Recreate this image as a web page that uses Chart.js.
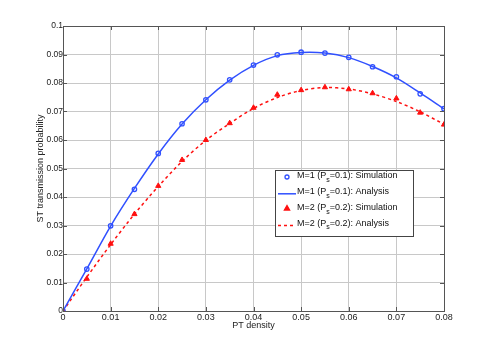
<!DOCTYPE html>
<html>
<head>
<meta charset="utf-8">
<script src="https://cdn.jsdelivr.net/npm/chart.js@4/dist/chart.umd.min.js"></script>
<style>
  html, body { margin: 0; padding: 0; background: #fff; }
  #wrap { width: 491px; height: 350px; }
</style>
</head>
<body>
<div id="wrap"><canvas id="chart" width="491" height="350"></canvas></div>
<script>
// PT density on the x axis
const density = [0, 0.005, 0.01, 0.015, 0.02, 0.025, 0.03, 0.035, 0.04,
  0.045, 0.05, 0.055, 0.06, 0.065, 0.07, 0.075, 0.08];

const m1Sim = [0, 0.0147, 0.0299, 0.0427, 0.0553, 0.0657, 0.0741, 0.0811, 0.0863,
  0.0899, 0.0908, 0.0905, 0.0890, 0.0857, 0.0822, 0.0762, 0.0710];
const m1Ana = [0, 0.0148, 0.0298, 0.0430, 0.0551, 0.0656, 0.0741, 0.0810, 0.0862,
  0.0896, 0.0907, 0.0905, 0.0889, 0.0858, 0.0818, 0.0765, 0.0709];

const m2Sim = [0, 0.0113, 0.0236, 0.0340, 0.0439, 0.0530, 0.0600, 0.0659, 0.0713,
  0.0759, 0.0775, 0.0785, 0.0778, 0.0764, 0.0746, 0.0696, 0.0654];
const m2Ana = [0, 0.0119, 0.0233, 0.0340, 0.0437, 0.0525, 0.0599, 0.0658, 0.0711,
  0.0749, 0.0774, 0.0784, 0.0779, 0.0762, 0.0735, 0.0699, 0.0655];

const xTicks = [0, 0.01, 0.02, 0.03, 0.04, 0.05, 0.06, 0.07, 0.08];
const yTicks = [0, 0.01, 0.02, 0.03, 0.04, 0.05, 0.06, 0.07, 0.08, 0.09, 0.1];

const BLUE = '#3050ff';
const RED = '#ff1010';
const FONT = '"Liberation Sans", Arial, Helvetica, sans-serif';

const pts = ys => density.map((x, i) => ({ x, y: ys[i] }));

const legendItems = [
  { m: '1', p: '0.1', kind: 'Simulation', color: BLUE, marker: 'circle' },
  { m: '1', p: '0.1', kind: 'Analysis', color: BLUE, dash: [] },
  { m: '2', p: '0.2', kind: 'Simulation', color: RED, marker: 'triangle' },
  { m: '2', p: '0.2', kind: 'Analysis', color: RED, dash: [3, 3] },
];

// box, inward ticks and the boxed legend, MATLAB style
const framePlugin = {
  id: 'frame',
  afterDatasetsDraw(chart) {
    const { ctx, chartArea: a, scales } = chart;
    ctx.save();
    ctx.strokeStyle = '#555';
    ctx.lineWidth = 1;
    ctx.strokeRect(a.left + 0.5, a.top + 0.5, a.right - a.left, a.bottom - a.top);
    ctx.beginPath();
    xTicks.forEach(v => {
      const x = Math.round(scales.x.getPixelForValue(v)) + 0.5;
      ctx.moveTo(x, a.bottom); ctx.lineTo(x, a.bottom - 4);
      ctx.moveTo(x, a.top); ctx.lineTo(x, a.top + 4);
    });
    yTicks.forEach(v => {
      const y = Math.round(scales.y.getPixelForValue(v)) + 0.5;
      ctx.moveTo(a.left, y); ctx.lineTo(a.left + 4, y);
      ctx.moveTo(a.right, y); ctx.lineTo(a.right - 4, y);
    });
    ctx.stroke();

    // legend
    const bx = 275.5, by = 170.5, bw = 138, bh = 66;
    ctx.fillStyle = '#fff';
    ctx.fillRect(bx, by, bw, bh);
    ctx.strokeStyle = '#444';
    ctx.strokeRect(bx, by, bw, bh);
    legendItems.forEach((it, i) => {
      const cy = 176 + i * 15.8;
      ctx.strokeStyle = it.color;
      ctx.lineWidth = 1.3;
      if (it.marker === 'circle') {
        ctx.fillStyle = '#fff';
        Chart.helpers.drawPoint(ctx, { pointStyle: 'circle', radius: 2, borderWidth: 1.3 }, 287, cy + 1);
      } else if (it.marker === 'triangle') {
        ctx.fillStyle = it.color;
        Chart.helpers.drawPoint(ctx, { pointStyle: 'triangle', radius: 3, borderWidth: 1 }, 287, cy + 1);
      } else {
        ctx.lineWidth = 1.5;
        ctx.setLineDash(it.dash);
        ctx.beginPath(); ctx.moveTo(278, cy + 2); ctx.lineTo(296, cy + 2); ctx.stroke();
        ctx.setLineDash([]);
      }
      ctx.fillStyle = '#111';
      ctx.font = '9px ' + FONT;
      ctx.textBaseline = 'middle';
      let tx = 297;
      const a1 = 'M=' + it.m + ' (P';
      ctx.fillText(a1, tx, cy); tx += ctx.measureText(a1).width;
      ctx.font = '7px ' + FONT;
      ctx.fillText('s', tx, cy + 4); tx += ctx.measureText('s').width;
      ctx.font = '9px ' + FONT;
      ctx.fillText('=' + it.p + '): ' + it.kind, tx, cy);
    });
    ctx.restore();
  },
};

new Chart(document.getElementById('chart'), {
  type: 'scatter',
  data: {
    datasets: [{
      label: 'M=1 (Ps=0.1): Analysis',
      data: pts(m1Ana), showLine: true, borderColor: BLUE, borderWidth: 1.5,
      pointRadius: 0, tension: 0.3,
    }, {
      label: 'M=2 (Ps=0.2): Analysis',
      data: pts(m2Ana), showLine: true, borderColor: RED, borderWidth: 1.5,
      borderDash: [3, 3], pointRadius: 0, tension: 0.3,
    }, {
      label: 'M=1 (Ps=0.1): Simulation',
      data: pts(m1Sim), showLine: false, borderColor: BLUE, backgroundColor: 'rgba(0,0,0,0)',
      pointStyle: 'circle', pointRadius: 2.2, pointBorderWidth: 1.3,
    }, {
      label: 'M=2 (Ps=0.2): Simulation',
      data: pts(m2Sim), showLine: false, borderColor: RED, backgroundColor: RED,
      pointStyle: 'triangle', pointRadius: 3, pointBorderWidth: 1,
    }],
  },
  options: {
    responsive: false,
    animation: false,
    layout: { padding: { left: 35, top: 26, right: 47, bottom: 19 } },
    plugins: { legend: { display: false }, tooltip: { enabled: false } },
    scales: {
      x: {
        type: 'linear', min: 0, max: 0.08,
        afterBuildTicks: s => { s.ticks = xTicks.map(v => ({ value: v })); },
        afterFit: s => { s.height = 20; },
        grid: { color: '#c8c8c8', borderDash: [1, 2], drawTicks: false, lineWidth: 1 },
        border: { display: false },
        ticks: { color: '#222', padding: 1, font: { family: FONT, size: 9 }, maxRotation: 0,
          callback: v => String(+v.toFixed(3)) },
        title: { display: true, text: 'PT density', color: '#222', padding: 0,
          font: { family: FONT, size: 9 } },
      },
      y: {
        min: 0, max: 0.1,
        afterBuildTicks: s => { s.ticks = yTicks.map(v => ({ value: v })); },
        afterFit: s => { s.width = 28; },
        grid: { color: '#c8c8c8', borderDash: [1, 2], drawTicks: false, lineWidth: 1 },
        border: { display: false },
        ticks: { color: '#222', padding: 0, font: { family: FONT, size: 8.5 },
          callback: v => String(+v.toFixed(3)) },
        title: { display: true, text: 'ST transmission probability', color: '#222', padding: 0,
          font: { family: FONT, size: 9 } },
      },
    },
  },
  plugins: [framePlugin],
});
</script>
</body>
</html>
